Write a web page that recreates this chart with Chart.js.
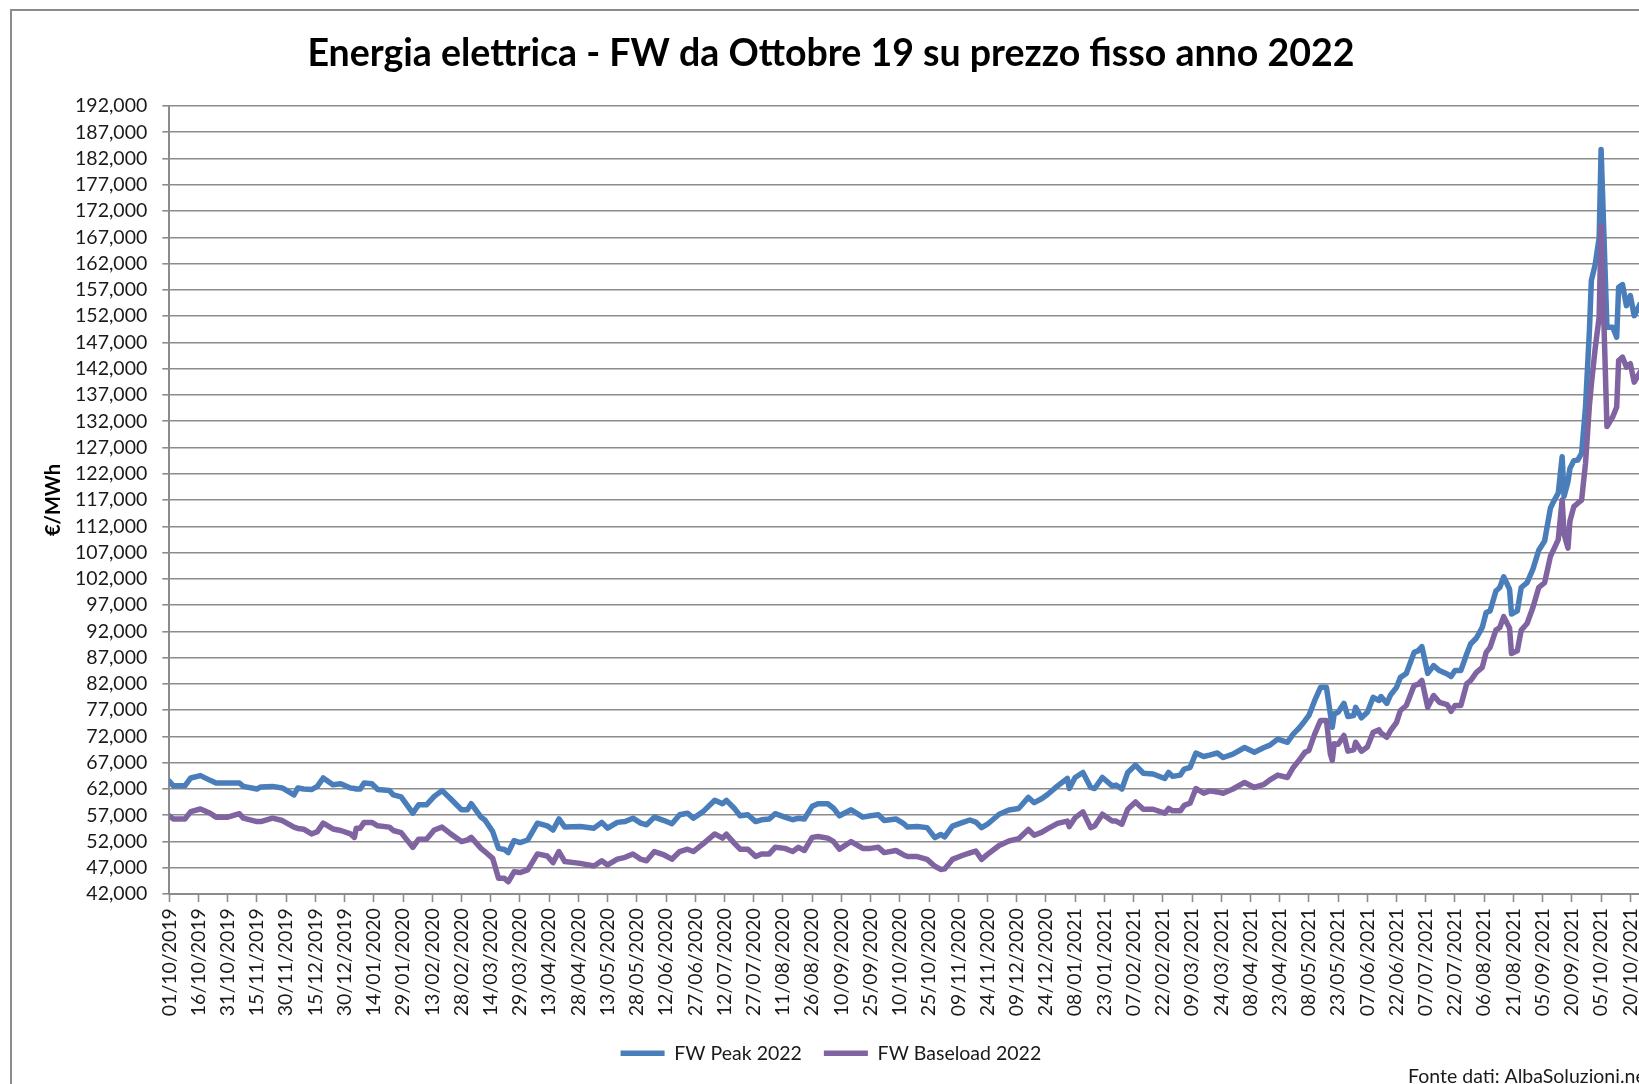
<!DOCTYPE html>
<html>
<head>
<meta charset="utf-8">
<title>Energia elettrica - FW</title>
<script src="https://cdn.jsdelivr.net/npm/chart.js@4.4.0/dist/chart.umd.min.js"></script>
<style>
html, body { margin: 0; padding: 0; background: #fff; overflow: hidden; }
#wrap { position: relative; width: 1680px; height: 1084px; }
</style>
</head>
<body>
<div id="wrap"><canvas id="energyChart" width="1680" height="1084"></canvas></div>
<script>
// giorni dal 01/10/2019
var days = [0,2,8,11,16,21,24,30,36,38,45,47,53,58,64,66,69,73,76,79,84,88,93,95,96,98,100,104,107,113,
    115,119,125,128,132,136,140,144,150,153,155,160,162,166,169,172,174,177,180,184,189,194,197,200,
    203,211,218,222,225,230,234,238,242,245,249,254,258,262,266,269,274,280,284,286,290,293,297,301,304,308,
    311,316,320,323,326,330,333,338,341,344,350,356,360,364,367,373,377,379,384,
    389,393,396,398,402,407,411,414,417,420,426,431,436,441,444,448,451,456,461,462,465,469,473,475,479,484,
    486,489,492,496,500,505,511,513,515,519,521,524,527,531,534,538,541,546,552,557,562,565,569,574,577,580,583,
    585,588,591,594,596,597,598,600,603,605,608,609,612,615,618,621,622,625,627,630,632,635,639,641,643,646,
    649,652,656,658,660,663,666,668,671,674,676,678,681,683,685,688,689,692,694,697,700,
    703,706,709,711,713,715,716,718,719,721,723,725,727,729,730,732,734,735,738,741,743,744,746,748,750,752,755];

var peak = [63500,62600,62600,64100,64550,63650,63150,63150,63150,62500,62000,62400,62500,62200,60900,62200,62000,61900,62500,64100,
    62800,63000,62200,62100,62000,62000,63150,63000,61900,61700,60900,60500,57400,59000,59000,60600,61700,60300,58050,58050,
    59200,56650,56100,53900,50700,50500,49900,52200,51800,52300,55500,55000,54200,56300,
    54750,54850,54550,55650,54550,55650,55800,56450,55500,55200,56650,56000,55400,57100,57400,56450,57700,59850,59200,59850,
    58350,56900,57100,55800,56150,56300,57300,56650,56150,56450,56300,58700,59200,59200,58350,56900,58050,56650,56900,57100,
    56000,56300,55400,54750,54850,
    54650,52750,53350,52900,54950,55600,56100,55700,54650,55300,57200,58000,58300,60400,59400,60200,61000,62600,64000,62100,
    64200,65150,62300,62100,64200,62600,62750,62000,65150,66550,65000,64850,64000,65150,64400,64650,65800,66100,68850,68200,
    68450,68850,68000,68650,69900,69000,69900,70350,71500,70900,72500,73600,75000,
    76000,78850,81350,81350,76300,73750,76300,76600,78300,75800,76000,77550,75550,76600,79450,78850,79600,78300,79950,81350,
    83250,84000,88000,88300,89100,84000,85500,84550,83900,83400,84550,84550,87700,89600,90750,92750,95600,95900,99700,100350,
    102400,100050,95300,95900,100350,101300,103850,
    107450,109200,115500,117000,118300,125250,117700,120500,123000,124500,124600,125900,134700,149250,158750,161900,166950,183700,149900,149900,
    148000,157500,158000,154000,155900,152100,154300];

var baseload = [56900,56300,56300,57700,58200,57400,56650,56650,57300,56450,55800,55800,56450,56000,54750,54500,54350,53450,53900,55500,
    54400,54100,53450,52800,54550,54550,55650,55650,55000,54750,54100,53700,50900,52450,52450,54200,54750,53600,52000,52300,
    52800,50700,50100,48800,45000,45000,44350,46250,46100,46600,49650,49250,48000,50100,
    48200,47850,47350,48350,47550,48650,49000,49650,48650,48350,50100,49450,48650,50100,50550,50100,51550,53450,52650,53400,
    51700,50550,50550,49150,49650,49650,50900,50700,50100,50900,50300,52800,52950,52650,52000,50550,52000,50700,50700,50900,
    49900,50300,49450,49150,49150,
    48600,47300,46700,46800,48600,49350,49850,50200,48600,49550,51250,52100,52550,54300,53200,53800,54450,55450,55900,54850,
    56550,57650,54650,54950,57200,55900,55900,55300,58150,59550,58150,58150,57400,58300,57850,57850,58900,59300,62100,61200,
    61650,61450,61200,62000,63250,62300,62900,63750,64650,64200,66100,67500,69000,
    69350,72500,75050,75050,68700,67450,70600,70500,72200,69200,69450,70900,69200,70000,72800,73250,72650,71850,73150,74700,
    76950,77900,81700,81900,82650,77550,79800,78500,78050,76800,77900,77900,82000,82650,84200,85150,88000,88950,92250,92750,
    94800,92650,87800,88300,92250,93500,96550,
    100350,101300,106300,107850,109450,117000,110500,107850,113000,115750,116400,117000,124000,135000,139000,146000,151800,169150,131000,132850,
    134700,143550,144200,142300,142950,139450,141350];

var seriesNames = ['FW Peak 2022', 'FW Baseload 2022'];
var titleText = 'Energia elettrica - FW da Ottobre 19 su prezzo fisso anno 2022';
var yTitle = '€/MWh';
var sourceText = 'Fonte dati: AlbaSoluzioni.net';
var startDate = Date.UTC(2019, 9, 1);

function pts(vals) {
    return days.map(function (d, i) { return { x: d, y: vals[i] }; });
}

function dayLabel(v) {
    var d = new Date(startDate + v * 86400000);
    var dd = String(d.getUTCDate()).padStart(2, '0');
    var mm = String(d.getUTCMonth() + 1).padStart(2, '0');
    return dd + '/' + mm + '/' + d.getUTCFullYear();
}

var gridGray = '#8c8c8c';
var labelFont = { family: 'Lato', size: 19.5 };

//frame + source note
const extras = {
    id: 'extras',
    afterDraw(chart) {
        const ctx = chart.ctx;
        ctx.save();
        ctx.strokeStyle = gridGray;
        ctx.lineWidth = 2;
        ctx.strokeRect(11, 10, 1656, 1100);
        ctx.font = '19.5px Lato';
        ctx.fillStyle = '#1a1a1a';
        ctx.textBaseline = 'middle';
        ctx.fillText(sourceText, 1408, 1077);
        ctx.restore();
    }
};

const energyChart = document.getElementById('energyChart');
const myChart = new Chart(energyChart, {
    type: 'line',
    data: {
        datasets: [{
            label: seriesNames[0],
            data: pts(peak),
            borderColor: '#4a7ebb',
            backgroundColor: '#4a7ebb',
            borderWidth: 5.5,
            borderCapStyle: 'round',
            borderJoinStyle: 'round',
            pointRadius: 0,
            tension: 0,
            order: 1
        }, {
            label: seriesNames[1],
            data: pts(baseload),
            borderColor: '#8064a2',
            backgroundColor: '#8064a2',
            borderWidth: 5.5,
            borderCapStyle: 'round',
            borderJoinStyle: 'round',
            pointRadius: 0,
            tension: 0,
            order: 0
        }]
    },
    options: {
        responsive: false,
        animation: false,
        devicePixelRatio: 1,
        layout: { padding: { left: 12, right: 30.2, top: 0, bottom: 11 } },
        plugins: {
            title: {
                display: true,
                text: titleText,
                color: '#000',
                font: { family: 'Lato', size: 37.5, weight: 'bold' },
                padding: { top: 31.5, bottom: 29.5 }
            },
            legend: {
                position: 'bottom',
                labels: {
                    color: '#1a1a1a',
                    font: labelFont,
                    usePointStyle: true,
                    pointStyle: 'line',
                    pointStyleWidth: 44,
                    boxHeight: 4,
                    padding: 22,
                    sort: function (a, b) { return a.datasetIndex - b.datasetIndex; }
                }
            },
            tooltip: { enabled: false }
        },
        scales: {
            x: {
                type: 'linear',
                min: 0,
                max: 760,
                ticks: {
                    stepSize: 15,
                    autoSkip: false,
                    includeBounds: false,
                    maxRotation: 90,
                    minRotation: 90,
                    padding: 6,
                    color: '#1a1a1a',
                    font: labelFont,
                    callback: function (v) { return dayLabel(v); }
                },
                grid: { display: true, drawOnChartArea: false, drawTicks: true, tickLength: 8, color: gridGray, tickWidth: 1.6 },
                border: { display: true, color: gridGray, width: 2 },
                afterFit: function (scale) { scale.height = 127.4; }
            },
            y: {
                min: 42000,
                max: 192000,
                ticks: {
                    stepSize: 5000,
                    autoSkip: false,
                    padding: 15,
                    color: '#1a1a1a',
                    font: labelFont,
                    callback: function (v) { return v.toLocaleString('en-US'); }
                },
                grid: { color: gridGray, lineWidth: 1.6, tickLength: 7 },
                border: { display: true, color: gridGray, width: 2 },
                title: {
                    display: true,
                    text: yTitle,
                    color: '#000',
                    font: { family: 'Lato', size: 20, weight: 'bold' },
                    padding: { top: 30, bottom: 0 }
                },
                afterFit: function (scale) { scale.width = 157.3; }
            }
        }
    },
    plugins: [extras]
});
</script>
</body>
</html>
